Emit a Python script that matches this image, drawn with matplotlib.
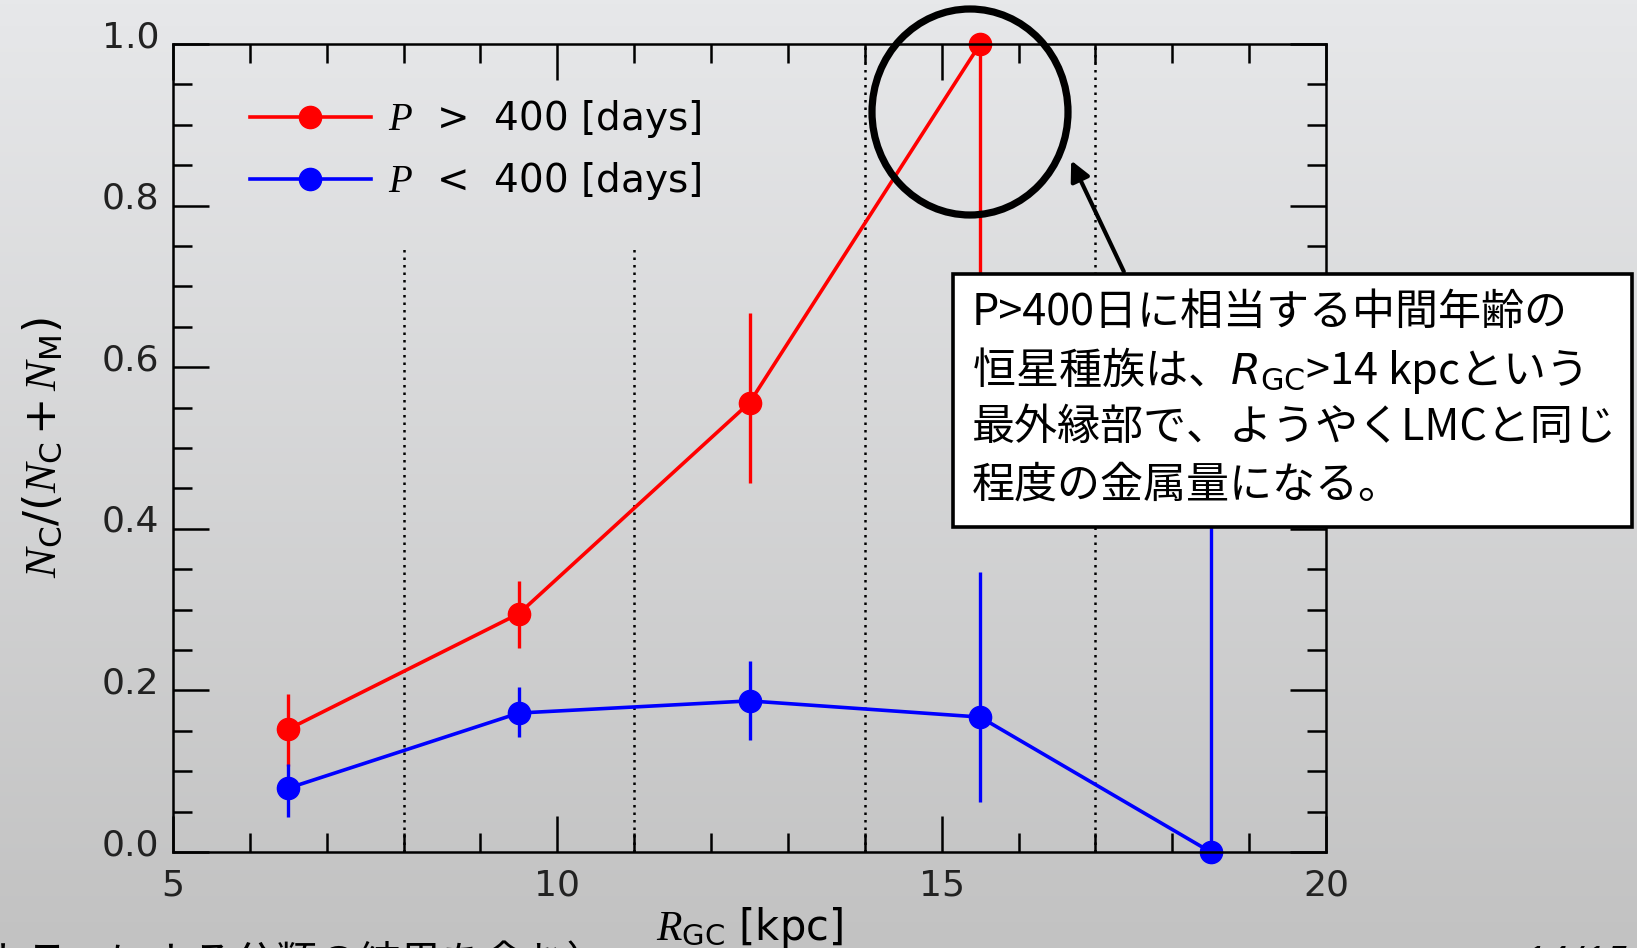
import matplotlib
matplotlib.use('Agg')
import matplotlib.pyplot as plt
from matplotlib.patches import Ellipse, Rectangle, FancyArrowPatch
from matplotlib.lines import Line2D
from matplotlib.colors import LinearSegmentedColormap
from matplotlib.ticker import MultipleLocator, FormatStrFormatter
import matplotlib.transforms as mtransforms
import numpy as np

plt.rcParams['mathtext.fontset'] = 'custom'
plt.rcParams['mathtext.rm'] = 'DejaVu Sans'
plt.rcParams['mathtext.it'] = 'Liberation Serif:italic'
plt.rcParams['mathtext.sf'] = 'DejaVu Sans'
plt.rcParams['font.family'] = ['DejaVu Sans', 'Noto Sans CJK JP']

# --- data ---
r_long = [6.5, 9.5, 12.5, 15.5]
frac_long = [0.152, 0.295, 0.556, 1.0]
err_long_lo = [0.045, 0.042, 0.099, 0.55]
err_long_hi = [0.044, 0.041, 0.111, 0.0]

r_short = [6.5, 9.5, 12.5, 15.5, 18.5]
frac_short = [0.079, 0.172, 0.187, 0.167, 0.0]
err_short_lo = [0.036, 0.030, 0.049, 0.105, 0.0]
err_short_hi = [0.030, 0.032, 0.049, 0.179, 0.5]

bin_edges = [8, 11, 14, 17]
bin_tops = [0.75, 0.75, 1.0, 1.0]

legend_labels = [r'$P$  >  400 [days]', r'$P$  <  400 [days]']
note_lines = ['P>400日に相当する中間年齢の',
              r'恒星種族は、$R_\mathrm{GC}$>14 kpcという',
              '最外縁部で、ようやくLMCと同じ',
              '程度の金属量になる。']
footer_text = '（赤外カラーによる分類の結果を含む）'
page_text = '14/15'

W, H = 1637, 948


def fx(x):
    return x / W


def fy(y):
    return 1 - y / H


fig = plt.figure(figsize=(W / 100, H / 100), dpi=100)

# slide background gradient
bg = fig.add_axes([0, 0, 1, 1], zorder=-10)
grad = np.linspace(0, 1, 256).reshape(-1, 1)
cmap = LinearSegmentedColormap.from_list('bg', ['#c2c2c2', '#e7e8ea'])
bg.imshow(grad, aspect='auto', cmap=cmap, origin='lower', extent=[0, 1, 0, 1])
bg.axis('off')

ax = fig.add_axes([fx(173), fy(852), fx(1326) - fx(173), fy(44) - fy(852)])
ax.set_facecolor('none')

ax.vlines(bin_edges, 0, bin_tops, colors='black', linestyles=(0, (1, 2.0)), lw=1.8)

eb_l = ax.errorbar(r_long, frac_long, yerr=[err_long_lo, err_long_hi], color='#ff0000',
                   marker='o', ms=16, lw=2.6, elinewidth=2.4, capsize=0)
eb_s = ax.errorbar(r_short, frac_short, yerr=[err_short_lo, err_short_hi], color='#0000ff',
                   marker='o', ms=16, lw=2.6, elinewidth=2.4, capsize=0)
eb_l.lines[0].set_clip_on(False)
eb_s.lines[0].set_clip_on(False)

ax.set_xlim(5, 20)
ax.set_ylim(0, 1)
ax.xaxis.set_major_locator(MultipleLocator(5))
ax.xaxis.set_minor_locator(MultipleLocator(1))
ax.yaxis.set_major_locator(MultipleLocator(0.2))
ax.yaxis.set_minor_locator(MultipleLocator(0.05))
ax.yaxis.set_major_formatter(FormatStrFormatter('%.1f'))
ax.tick_params(which='both', direction='in', top=True, right=True, width=1.8,
               labelsize=26, labelcolor='#222222')
ax.tick_params(which='major', length=26)
ax.tick_params(which='minor', length=13.5)
ax.tick_params(axis='y', pad=10)
ax.tick_params(axis='x', pad=12)
for s in ax.spines.values():
    s.set_linewidth(1.8)

# y tick labels sit a little above their ticks in the original
shift = mtransforms.ScaledTranslation(0, 7.5 / 72, fig.dpi_scale_trans)
for tick in ax.yaxis.get_major_ticks():
    tick.label1.set_transform(tick.label1.get_transform() + shift)

ax.set_ylabel(r'$N_\mathrm{C}/(N_\mathrm{C}+N_\mathrm{M})$', fontsize=32, labelpad=26)
ax.set_xlabel(r'$R_\mathrm{GC}$ [kpc]', fontsize=30, labelpad=2)

handles = [Line2D([], [], color='#ff0000', marker='o', ms=16, lw=2.6),
           Line2D([], [], color='#0000ff', marker='o', ms=16, lw=2.6)]
leg = ax.legend(handles, legend_labels, loc='upper left', bbox_to_anchor=(0.05, 0.957),
                frameon=False, fontsize=28, handlelength=3.1, handletextpad=0.45,
                labelspacing=0.52, borderpad=0)

# circle + arrow + note box
fig.add_artist(Ellipse((fx(970), fy(112)), 2 * 98 / W, 2 * 103 / H, transform=fig.transFigure,
                       fill=False, edgecolor='black', lw=5.2, zorder=5))
fig.add_artist(FancyArrowPatch((fx(1125), fy(274)), (fx(1070), fy(158)), transform=fig.transFigure,
                               arrowstyle='-|>,head_length=8,head_width=4', mutation_scale=1.5,
                               color='black', lw=3, zorder=5))
fig.add_artist(Rectangle((fx(953), fy(527)), fx(1632) - fx(953), fy(274) - fy(527),
                         transform=fig.transFigure, facecolor='white', edgecolor='black',
                         lw=2.6, zorder=6))
row_y = [313, 371, 428, 486]
for txt, y in zip(note_lines, row_y):
    fig.text(fx(972), fy(y), txt, family=['Noto Sans CJK JP', 'DejaVu Sans'], fontsize=31,
             va='center', ha='left', color='black', zorder=7, math_fontfamily='dejavusans')

# cut-off slide texts at the bottom
fig.text(fx(608), fy(976), footer_text, family=['Noto Sans CJK JP'], fontsize=30,
         ha='right', va='baseline', color='black')
fig.text(fx(1522), fy(976), page_text, family=['Open Sans'], fontsize=30, style='italic',
         ha='left', va='baseline', color='black')

fig.savefig('out.png', dpi=100)
